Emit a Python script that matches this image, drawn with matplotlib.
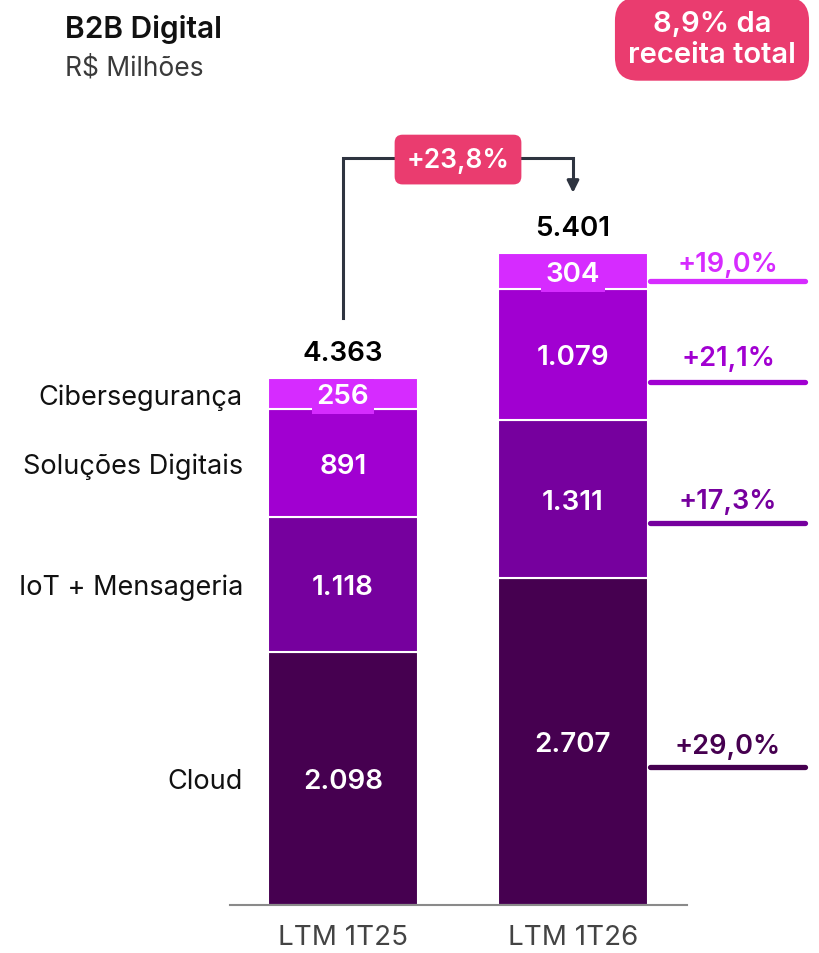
import numpy as np
import matplotlib
matplotlib.use("Agg")
import matplotlib.pyplot as plt

# data
periods = ["LTM 1T25", "LTM 1T26"]
segments = ["Cloud", "IoT + Mensageria", "Soluções Digitais", "Cibersegurança"]
values_1t25 = [2098, 1118, 891, 256]
values_1t26 = [2707, 1311, 1079, 304]
totals = [4363, 5401]
growth = ["+29,0%", "+17,3%", "+21,1%", "+19,0%"]
total_growth = "+23,8%"
share_text = "8,9% da\nreceita total"

colors = ["#460050", "#76009E", "#A100D1", "#D62BFF"]
pink = "#EA3C6F"
arrow_col = "#2E3440"

plt.rcParams["font.family"] = ["Inter", "DejaVu Sans"]
BOLD = 600


def fmt(v):
    return f"{v:,}".replace(",", ".")


W, H = 820, 954
fig = plt.figure(figsize=(W / 100, H / 100), dpi=100)
# axes: baseline at 906 px, 0.1208 px per R$ mi
ax = fig.add_axes([230 / W, 48 / H, 457 / W, 806 / H])
ymax = 806 / 0.1208
ax.set_ylim(0, ymax)
ax.set_xlim(-113 / 230, 1 + 114 / 230)
s = ymax / 806      # data units per pixel (y)
ux = 1 / 230        # data units per pixel (x)

# pixel offsets of the growth markers (line below segment centre, text above line)
line_off = [26, 24, 28, 10]
text_off = [24, 25, 27, 20]
nudge = 3 * s       # text sits slightly low in the source

x = np.arange(len(periods))
width = 150 / 230
data = np.array([values_1t25, values_1t26])
bottoms = np.zeros(2)
for i, seg in enumerate(segments):
    vals = data[:, i]
    ax.bar(x, vals, width, bottom=bottoms, color=colors[i],
           edgecolor="white", linewidth=1.5)
    for j in range(2):
        cy = bottoms[j] + vals[j] / 2
        ax.text(x[j], cy - nudge, fmt(vals[j]), ha="center", va="center",
                color="white", fontsize=20, fontweight=BOLD,
                bbox=dict(boxstyle="square,pad=0.17", fc=colors[i], ec="none"))
    # category label next to left bar
    ax.text(-100 * ux, bottoms[0] + vals[0] / 2 - nudge, seg, ha="right",
            va="center", fontsize=19.5, color="#111111", clip_on=False)
    # growth marker right of right bar
    cy = bottoms[1] + vals[1] / 2
    ly = cy - line_off[i] * s
    ax.plot([1 + 77 * ux, 1 + 232 * ux], [ly, ly], color=colors[i], lw=3.8,
            solid_capstyle="round", clip_on=False)
    ax.text(1 + 155 * ux, ly + text_off[i] * s - nudge, growth[i], ha="center",
            va="center", fontsize=19.5, fontweight=BOLD, color=colors[i],
            clip_on=False)
    bottoms += vals

# totals
for j in range(2):
    ax.text(x[j], totals[j] + 25 * s, fmt(totals[j]), ha="center", va="center",
            fontsize=20, fontweight=BOLD, color="black")

# growth arrow between totals
peak = max(totals) + 95 * s
y_start = totals[0] + 60 * s
y_tip = totals[1] + 57 * s
ax.plot([x[0], x[0], x[1], x[1]], [y_start, peak, peak, y_tip + 12 * s],
        color=arrow_col, lw=2.2, solid_joinstyle="miter", clip_on=False)
ax.annotate("", xy=(x[1], y_tip), xytext=(x[1], y_tip + 14 * s),
            arrowprops=dict(arrowstyle="-|>,head_width=0.35,head_length=0.7",
                            color=arrow_col, lw=2.2), annotation_clip=False)
ax.text(0.5, peak - 2 * s, total_growth, ha="center", va="center", fontsize=19,
        fontweight=BOLD, color="white", clip_on=False,
        bbox=dict(boxstyle="round,pad=0.45,rounding_size=0.3", fc=pink, ec="none"))

# axis styling
for sp in ["top", "right", "left"]:
    ax.spines[sp].set_visible(False)
ax.spines["bottom"].set_color("#8a8a8a")
ax.spines["bottom"].set_linewidth(1.5)
ax.set_yticks([])
ax.set_xticks(x)
ax.set_xticklabels(periods, fontsize=20, color="#444444")
ax.tick_params(axis="x", length=0, pad=14)

# header
fig.text(65 / W, 1 - 30 / H, "B2B Digital", fontsize=21.5, fontweight=BOLD,
         ha="left", va="center", color="#111111")
fig.text(65 / W, 1 - 68 / H, "R$ Milhões", fontsize=19, ha="left",
         va="center", color="#3a3a3a")
fig.text(712 / W, 1 - 40 / H, share_text, fontsize=21, fontweight=BOLD,
         ha="center", va="center", color="white", linespacing=1.15,
         bbox=dict(boxstyle="round,pad=0.45,rounding_size=0.8", fc=pink, ec="none"))

fig.savefig("out.png", dpi=100)
